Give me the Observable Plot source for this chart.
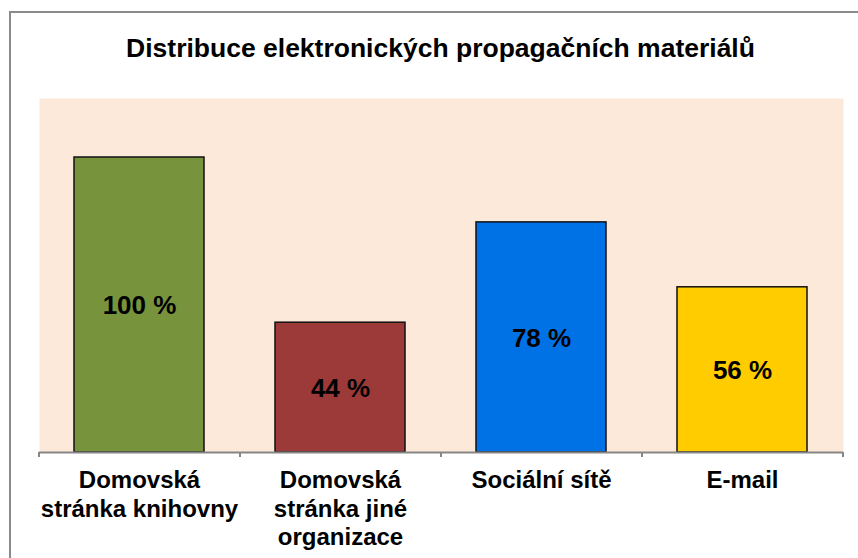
<!DOCTYPE html>
<html>
<head>
<meta charset="utf-8">
<script src="https://cdn.jsdelivr.net/npm/d3@7"></script>
<script src="https://cdn.jsdelivr.net/npm/@observablehq/plot@0.6"></script>
<style>
  html, body { margin: 0; padding: 0; background: #fff; overflow: hidden; }
  #wrap { position: relative; width: 858px; height: 558px; }
  #border { position: absolute; left: 9px; top: 11px; width: 900px; height: 600px; border: 2px solid #8a8a8a; box-sizing: border-box; }
  #chart { position: absolute; left: 0; top: 0; }
</style>
</head>
<body>
<div id="wrap"><div id="border"></div><div id="chart"></div></div>
<script>
const title = "Distribuce elektronických propagačních materiálů";
const categories = ["Domovská stránka knihovny", "Domovská stránka jiné organizace", "Sociální sítě", "E-mail"];
const tickLabels = ["Domovská\nstránka knihovny", "Domovská\nstránka jiné\norganizace", "Sociální sítě", "E-mail"];
const values = [100, 44, 78, 56];
const valueLabels = ["100 %", "44 %", "78 %", "56 %"];
const colors = ["#77933C", "#9B3A38", "#0072E6", "#FFCC00"];
const yMax = 120;

const data = categories.map((c, i) => ({cat: c, value: values[i], label: valueLabels[i], tick: tickLabels[i], color: colors[i]}));
const font = "'Liberation Sans', Arial, sans-serif";
const step = (843 - 39) / categories.length;

const chart = Plot.plot({
  width: 858,
  height: 558,
  marginLeft: 39,
  marginRight: 15,
  marginTop: 98,
  marginBottom: 106,
  style: {fontFamily: font, background: "transparent", overflow: "visible"},
  x: {domain: categories, padding: 0.353, paddingOuter: 0.1765, axis: null},
  y: {domain: [0, yMax], axis: null},
  marks: [
    Plot.frame({fill: "#FDE9D9", stroke: null}),
    Plot.barY(data, {x: "cat", y: "value", fill: "color", stroke: "#111", strokeWidth: 1.5}),
    Plot.ruleY([0], {stroke: "#868686", strokeWidth: 2}),
    Plot.ruleX(categories, {x: d => d, y1: 0, y2: 0, insetBottom: -5, dx: -step / 2, stroke: "#868686", strokeWidth: 2}),
    Plot.ruleX([categories[categories.length - 1]], {x: d => d, y1: 0, y2: 0, insetBottom: -5, dx: step / 2, stroke: "#868686", strokeWidth: 2}),
    Plot.text(data, {x: "cat", y: d => d.value / 2, dy: 1, text: "label", fontSize: 26, fontWeight: "bold", fill: "#000"}),
    Plot.text(data, {x: "cat", frameAnchor: "bottom", lineAnchor: "top", dy: 16, text: "tick", fontSize: 24, fontWeight: "bold", fill: "#000", lineHeight: 1.17}),
    Plot.text([title], {frameAnchor: "top", dy: -60, dx: -1, lineAnchor: "top", text: d => d, fontSize: 26.5, fontWeight: "bold", fill: "#000"})
  ]
});
document.getElementById("chart").appendChild(chart);
</script>
</body>
</html>
